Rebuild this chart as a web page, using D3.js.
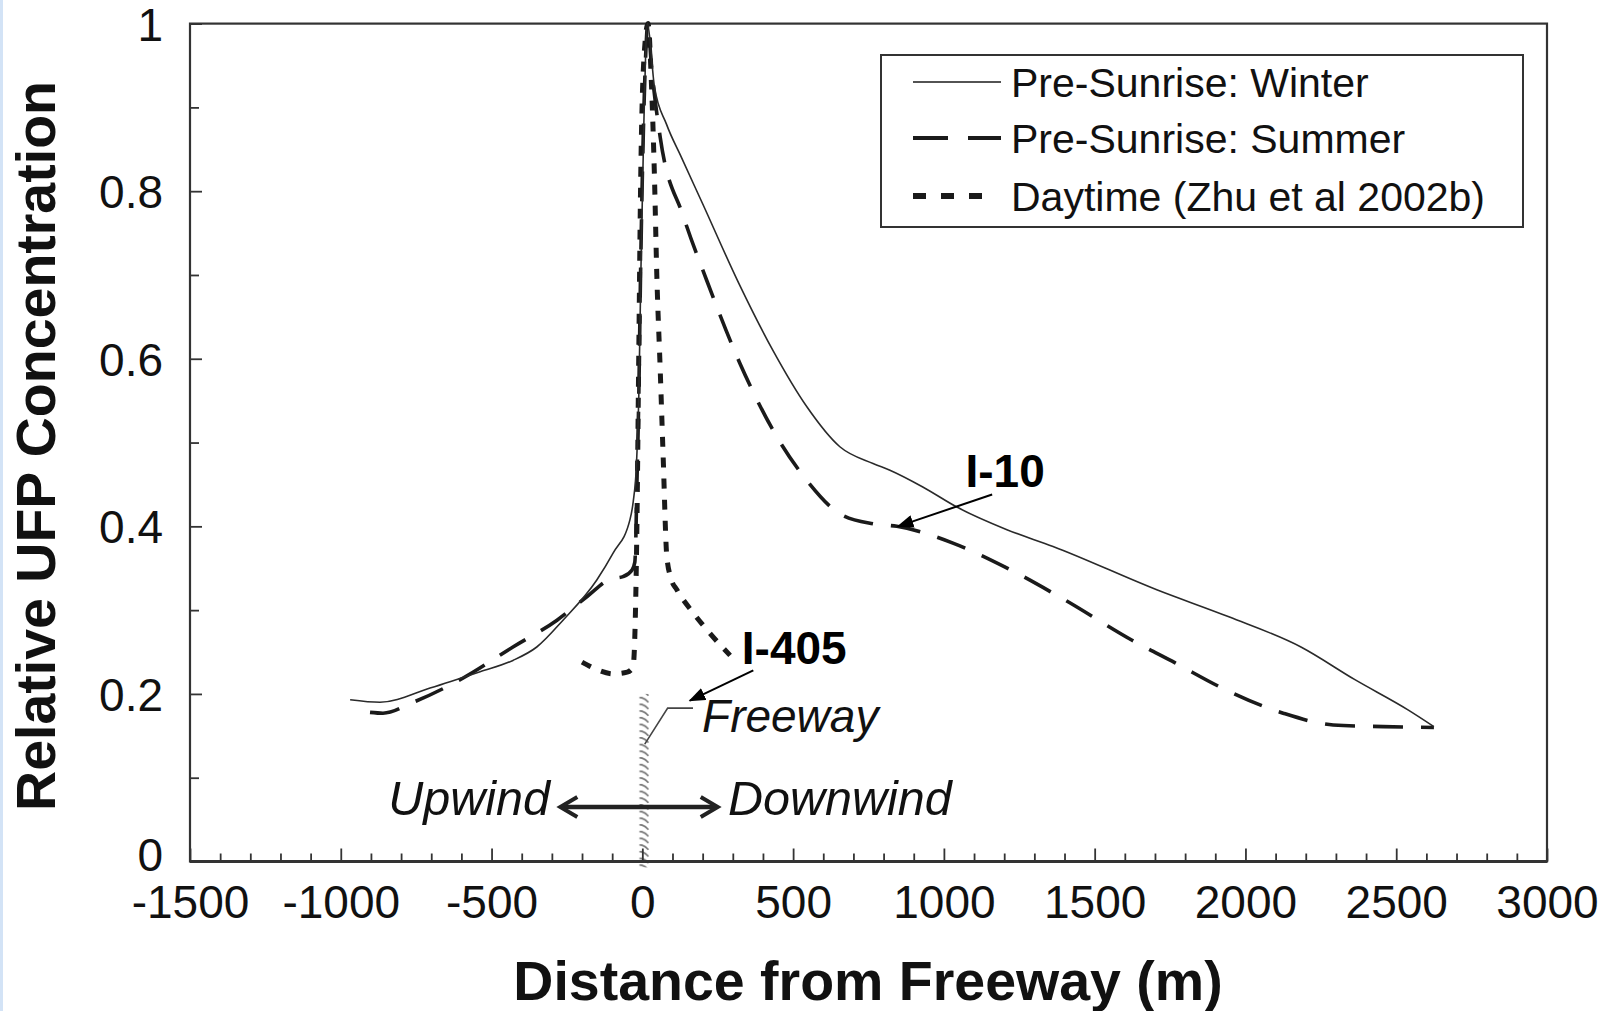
<!DOCTYPE html>
<html><head><meta charset="utf-8">
<script src="https://cdn.jsdelivr.net/npm/d3@7"></script>
<style>
html,body{margin:0;padding:0;background:#fff;}
svg{display:block;font-family:"Liberation Sans",Arial,Helvetica,sans-serif;}
</style></head>
<body>
<svg id="chart" width="1612" height="1011"></svg>
<script>
// ---------- data ----------
const seriesNames = ["Pre-Sunrise: Winter", "Pre-Sunrise: Summer", "Daytime (Zhu et al 2002b)"];
const winterX = [-969,-870,-704,-538,-429,-350,-263,-151,-97,-41,-30,-20,-12,-5,5,17,40,80,130,200,320,433,545,655,765,821,930,1043,1209,1362,1708,1945,2184,2363,2539,2625];
const winterY = [0.193,0.19,0.207,0.2265,0.24,0.256,0.288,0.336,0.368,0.408,0.43,0.47,0.55,0.7,0.88,1.0,0.925,0.88,0.84,0.785,0.69,0.61,0.543,0.495,0.475,0.467,0.447,0.423,0.396,0.376,0.324,0.292,0.256,0.217,0.181,0.161];
const summerX = [-903,-860,-760,-594,-429,-283,-184,-107,-64,-34,-25,-22,-18,-12,-6,2,12,18,30,59,136,213,323,433,545,655,765,844,1030,1200,1402,1624,1767,1923,2125,2291,2457,2625];
const summerY = [0.178,0.177,0.19,0.219,0.256,0.288,0.316,0.337,0.34,0.348,0.357,0.38,0.45,0.55,0.7,0.85,0.97,1.0,0.95,0.865,0.77,0.694,0.595,0.515,0.455,0.415,0.403,0.40,0.38,0.352,0.312,0.264,0.237,0.207,0.177,0.163,0.161,0.16];
const dayX = [-200,-150,-97,-50,-31,-24,-18,-12,-6,4,19,30,40,48,59,69,81,95,115,168,225,291];
const dayY = [0.238,0.229,0.224,0.226,0.232,0.28,0.4,0.6,0.8,0.95,1.0,0.93,0.82,0.7,0.59,0.484,0.365,0.338,0.324,0.297,0.272,0.246];
const xMajorTicks = [-1500,-1000,-500,0,500,1000,1500,2000,2500,3000];
const yMajorTicks = [0,0.2,0.4,0.6,0.8,1];
const yTickLabels = ["0","0.2","0.4","0.6","0.8","1"];
const freewayBand = [-18, 30, 0.2];   // x from, x to, top value
const xTitle = "Distance from Freeway (m)";
const yTitle = "Relative UFP Concentration";

// ---------- layout ----------
const W = 1612, H = 1011;
const L = 190, R = 1547, T = 23.6, B = 861.5;
const svg = d3.select("#chart");
const x = d3.scaleLinear().domain([-1500, 3000]).range([L, R]);
const y = d3.scaleLinear().domain([0, 1]).range([B, T]);
const ink = "#111";

// light blue left edge
svg.append("rect").attr("x",0).attr("y",0).attr("width",3).attr("height",H).attr("fill","#d3e3f6");

const defs = svg.append("defs");
const pat = defs.append("pattern").attr("id","hatch").attr("patternUnits","userSpaceOnUse")
  .attr("x", x(freewayBand[0])).attr("y", 0).attr("width",14).attr("height",6.7);
pat.append("path").attr("d","M2.5,0.5 Q8,1 11.5,5.5").attr("stroke","#7a7a7a").attr("stroke-width",1.9).attr("fill","none");
defs.append("marker").attr("id","arr").attr("viewBox","0 0 10 10").attr("refX",9).attr("refY",5)
  .attr("markerWidth",17).attr("markerHeight",13).attr("markerUnits","userSpaceOnUse").attr("orient","auto")
  .attr("preserveAspectRatio","none")
  .append("path").attr("d","M0,0 L10,5 L0,10 z").attr("fill","#000");

// freeway band
svg.append("rect")
  .attr("x", x(freewayBand[0])).attr("width", x(freewayBand[1]) - x(freewayBand[0]))
  .attr("y", y(freewayBand[2])).attr("height", y(-0.007) - y(freewayBand[2]))
  .attr("fill","url(#hatch)");

// axes (inward ticks)
const xMinor = d3.range(-1500, 3001, 100).filter(v => v % 500 !== 0);
const yMinor = [0.1,0.3,0.5,0.7,0.9];
const gx = svg.append("g").attr("transform",`translate(0,${B})`)
  .call(d3.axisBottom(x).tickValues(xMajorTicks).tickSize(-13).tickPadding(24).tickFormat(d3.format("d")));
gx.select(".domain").remove();
gx.selectAll("text").attr("font-size",46).attr("fill",ink).attr("font-family","Liberation Sans, Arial, sans-serif")
  .text(d => String(d));
gx.selectAll("line").attr("stroke","#333").attr("stroke-width",1.8);
const gxm = svg.append("g").attr("transform",`translate(0,${B})`)
  .call(d3.axisBottom(x).tickValues(xMinor).tickSize(-8).tickFormat(""));
gxm.select(".domain").remove();
gxm.selectAll("line").attr("stroke","#333").attr("stroke-width",1.8);

const gy = svg.append("g").attr("transform",`translate(${L},0)`)
  .call(d3.axisLeft(y).tickValues(yMajorTicks).tickSize(-12).tickPadding(27).tickFormat((d,i) => yTickLabels[i]));
gy.select(".domain").remove();
gy.selectAll("text").attr("font-size",46).attr("fill",ink).attr("font-family","Liberation Sans, Arial, sans-serif")
  .attr("dy", d => d === 0 ? "0.2em" : "0.36em");
gy.selectAll("line").attr("stroke","#333").attr("stroke-width",1.8);
const gym = svg.append("g").attr("transform",`translate(${L},0)`)
  .call(d3.axisLeft(y).tickValues(yMinor).tickSize(-9).tickFormat(""));
gym.select(".domain").remove();
gym.selectAll("line").attr("stroke","#333").attr("stroke-width",1.8);

// frame
svg.append("rect").attr("x",L).attr("y",T).attr("width",R-L).attr("height",B-T)
  .attr("fill","none").attr("stroke","#333").attr("stroke-width",2.2);
svg.append("line").attr("x1",L).attr("x2",R).attr("y1",B).attr("y2",B).attr("stroke","#333").attr("stroke-width",3);

// lines
const line = d3.line().x(d => x(d[0])).y(d => y(d[1])).curve(d3.curveMonotoneX);
const zip = (a,b) => a.map((v,i) => [v, b[i]]);
svg.append("path").datum(zip(dayX, dayY)).attr("d", line).attr("fill","none")
  .attr("stroke","#1a1a1a").attr("stroke-width",5).attr("stroke-dasharray","10,11");
svg.append("path").datum(zip(summerX, summerY)).attr("d", line).attr("fill","none")
  .attr("stroke","#1a1a1a").attr("stroke-width",3.6).attr("stroke-dasharray","30,18");
svg.append("path").datum(zip(winterX, winterY)).attr("d", line).attr("fill","none")
  .attr("stroke","#2a2a2a").attr("stroke-width",1.6);

// legend
const lg = svg.append("g");
lg.append("rect").attr("x",881).attr("y",55).attr("width",642).attr("height",172)
  .attr("fill","#fff").attr("stroke","#333").attr("stroke-width",2);
const legStyles = [
  {w:1.6, dash:null, end:1001},
  {w:4, dash:"35,20", end:1001},
  {w:6, dash:"13,15", end:984}
];
const rowsY = [82, 138, 196];
seriesNames.forEach((name, i) => {
  const l = lg.append("line").attr("x1",913).attr("x2",legStyles[i].end).attr("y1",rowsY[i]).attr("y2",rowsY[i])
    .attr("stroke","#1a1a1a").attr("stroke-width",legStyles[i].w);
  if (legStyles[i].dash) l.attr("stroke-dasharray", legStyles[i].dash);
  lg.append("text").attr("x",1011).attr("y",rowsY[i]).attr("dy","0.36em")
    .attr("font-size",41).attr("fill",ink).text(name);
});

// annotations
svg.append("text").attr("x", x(1203)).attr("y", y(0.447)).attr("text-anchor","middle")
  .attr("font-size",46).attr("font-weight","bold").attr("fill","#000").text("I-10");
svg.append("line").attr("x1", x(1160)).attr("y1", y(0.438)).attr("x2", x(848)).attr("y2", y(0.40))
  .attr("stroke","#000").attr("stroke-width",2).attr("marker-end","url(#arr)");

svg.append("text").attr("x", x(330)).attr("y", y(0.236)).attr("text-anchor","start")
  .attr("font-size",46).attr("font-weight","bold").attr("fill","#000").text("I-405");
svg.append("line").attr("x1", x(368)).attr("y1", y(0.228)).attr("x2", x(158)).attr("y2", y(0.192))
  .attr("stroke","#000").attr("stroke-width",2).attr("marker-end","url(#arr)");

svg.append("path").attr("d", `M${x(8)},${y(0.14)} L${x(84)},${y(0.183)} L${x(168)},${y(0.183)}`)
  .attr("fill","none").attr("stroke","#444").attr("stroke-width",1.6);
svg.append("text").attr("x", x(198)).attr("y", y(0.155)).attr("font-size",46).attr("font-style","italic")
  .attr("fill",ink).text("Freeway");

// Upwind / Downwind double arrow
const ay = y(0.065);
const ax1 = x(-272), ax2 = x(250);
svg.append("line").attr("x1", ax1 + 2).attr("x2", ax2 - 2).attr("y1", ay).attr("y2", ay)
  .attr("stroke","#222").attr("stroke-width",4.5);
svg.append("path").attr("d", `M${ax1+17},${ay-10} L${ax1},${ay} L${ax1+17},${ay+10}`)
  .attr("fill","none").attr("stroke","#222").attr("stroke-width",4).attr("stroke-linejoin","miter");
svg.append("path").attr("d", `M${ax2-17},${ay-10} L${ax2},${ay} L${ax2-17},${ay+10}`)
  .attr("fill","none").attr("stroke","#222").attr("stroke-width",4).attr("stroke-linejoin","miter");
svg.append("text").attr("x", x(-306)).attr("y", y(0.055)).attr("text-anchor","end")
  .attr("font-size",48.5).attr("font-style","italic").attr("fill",ink).text("Upwind");
svg.append("text").attr("x", x(284)).attr("y", y(0.055)).attr("text-anchor","start")
  .attr("font-size",48.5).attr("font-style","italic").attr("fill",ink).text("Downwind");

// axis titles
svg.append("text").attr("x", 868).attr("y", 1000).attr("text-anchor","middle")
  .attr("font-size",55.5).attr("font-weight","bold").attr("fill",ink).text(xTitle);
svg.append("text").attr("transform","translate(55,446) rotate(-90)").attr("text-anchor","middle")
  .attr("font-size",55.5).attr("font-weight","bold").attr("fill",ink).text(yTitle);
</script>
</body></html>
